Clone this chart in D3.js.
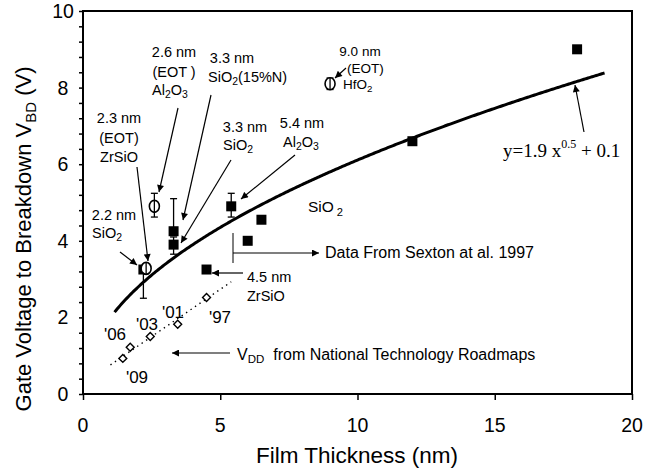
<!DOCTYPE html>
<html>
<head>
<meta charset="utf-8">
<script src="https://cdn.jsdelivr.net/npm/d3@7"></script>
<style>
  body { margin: 0; background: #fff; }
  text { font-family: "Liberation Sans", Arial, sans-serif; fill: #000; }
</style>
</head>
<body>
<svg id="chart" width="651" height="472"></svg>
<script>
// Measured breakdown voltages (filled squares)
const squareX = [2.2, 3.3, 3.3, 4.5, 5.4, 6.0, 6.5, 12.0, 18.0];
const squareY = [3.25, 3.9, 4.25, 3.25, 4.9, 4.0, 4.55, 6.6, 9.0];
// High-k films quoted at equivalent oxide thickness (open circles)
const circleX = [2.3, 2.6, 9.0];
const circleY = [3.28, 4.9, 8.1];
// Error bars: thickness, low, high
const errX = [2.2, 3.3, 3.3, 5.4, 2.6, 9.0];
const errLow = [2.5, 3.65, 4.25, 4.62, 4.62, 7.95];
const errHigh = [3.25, 4.1, 5.1, 5.24, 5.24, 8.25];
// Supply voltage from the technology roadmaps (open diamonds)
const vddYear = ["'97", "'01", "'03", "'06", "'09"];
const vddX = [4.5, 3.45, 2.45, 1.72, 1.45];
const vddY = [2.52, 1.82, 1.5, 1.22, 0.93];
const vddTrendX = [1.0, 5.4];
const vddTrendY = [0.76, 2.93];
// Fit: y = 1.9 x^0.5 + 0.1
const fitA = 1.9, fitP = 0.5, fitC = 0.1;
const fitRange = [1.15, 19];
// Axes
const xTicks = [0, 5, 10, 15, 20];
const yTicks = [0, 2, 4, 6, 8, 10];

const svg = d3.select("#chart");
const x = d3.scaleLinear().domain([0, 20]).range([83, 632]);
const y = d3.scaleLinear().domain([0, 10]).range([394, 11]);

// arrow head
svg.append("defs").append("marker")
  .attr("id", "ah").attr("viewBox", "0 0 10 10")
  .attr("refX", 10).attr("refY", 5)
  .attr("markerWidth", 9).attr("markerHeight", 7)
  .attr("markerUnits", "userSpaceOnUse")
  .attr("orient", "auto")
  .append("path").attr("d", "M0,0 L10,5 L0,10 z").attr("fill", "#000");

// axes
const yMinor = d3.range(0, 10.001, 0.4);
svg.append("g").attr("transform", "translate(83,0)")
  .call(d3.axisLeft(y).tickValues(yMinor).tickSize(4).tickFormat(""))
  .call(g => g.select(".domain").remove())
  .call(g => g.selectAll("line").attr("stroke", "#000").attr("stroke-width", 1.5));
svg.append("g").attr("transform", "translate(0,394)")
  .call(d3.axisBottom(x).tickValues(xTicks).tickSize(6).tickFormat(""))
  .call(g => g.select(".domain").remove())
  .call(g => g.selectAll("line").attr("stroke", "#000").attr("stroke-width", 1.5));

svg.selectAll(".ylab").data(yTicks).join("text")
  .attr("x", 63).attr("y", d => y(d) + 7)
  .attr("text-anchor", "middle").attr("font-size", 19.5).text(d => d);
svg.selectAll(".xlab").data(xTicks).join("text")
  .attr("x", d => x(d)).attr("y", 432)
  .attr("text-anchor", "middle").attr("font-size", 19.5).text(d => d);

// frame
svg.append("rect").attr("x", 83).attr("y", 11)
  .attr("width", 632 - 83).attr("height", 394 - 11)
  .attr("fill", "none").attr("stroke", "#000").attr("stroke-width", 2);

// axis titles
svg.append("text").attr("x", 357).attr("y", 463).attr("text-anchor", "middle")
  .attr("font-size", 22.5).text("Film Thickness (nm)");
const yt = svg.append("text").attr("transform", "translate(31,239) rotate(-90)")
  .attr("text-anchor", "middle").attr("font-size", 22);
yt.append("tspan").text("Gate Voltage to Breakdown V");
yt.append("tspan").attr("font-size", 15).attr("dy", 5).text("BD");
yt.append("tspan").attr("dy", -5).text(" (V)");

// fit curve
const fitXs = d3.range(fitRange[0], fitRange[1] + 0.001, 0.05);
svg.append("path")
  .datum(fitXs)
  .attr("d", d3.line().x(d => x(d)).y(d => y(fitA * Math.pow(d, fitP) + fitC)))
  .attr("fill", "none").attr("stroke", "#000").attr("stroke-width", 3);

// roadmap trend (dotted)
svg.append("path")
  .datum(d3.zip(vddTrendX, vddTrendY))
  .attr("d", d3.line().x(d => x(d[0])).y(d => y(d[1])))
  .attr("fill", "none").attr("stroke", "#000").attr("stroke-width", 1.4)
  .attr("stroke-dasharray", "1.4,4");

// error bars
const errs = d3.zip(errX, errLow, errHigh);
const eb = svg.append("g").attr("stroke", "#000").attr("stroke-width", 1.3);
errs.forEach(([ex, lo, hi]) => {
  eb.append("line").attr("x1", x(ex)).attr("x2", x(ex)).attr("y1", y(lo)).attr("y2", y(hi));
  [lo, hi].forEach(v => eb.append("line")
    .attr("x1", x(ex) - 3.5).attr("x2", x(ex) + 3.5).attr("y1", y(v)).attr("y2", y(v)));
});

// squares
svg.selectAll(".sq").data(d3.zip(squareX, squareY)).join("rect")
  .attr("x", d => x(d[0]) - 5).attr("y", d => y(d[1]) - 5)
  .attr("width", 10).attr("height", 10).attr("fill", "#000");

// circles
svg.selectAll(".ci").data(d3.zip(circleX, circleY)).join("ellipse")
  .attr("cx", d => x(d[0])).attr("cy", d => y(d[1]))
  .attr("rx", 5).attr("ry", 6)
  .attr("fill", "#fff").attr("stroke", "#000").attr("stroke-width", 1.6);
svg.selectAll(".cl").data(d3.zip(circleX, circleY)).join("line")
  .attr("x1", d => x(d[0])).attr("x2", d => x(d[0]))
  .attr("y1", d => y(d[1]) - 6).attr("y2", d => y(d[1]) + 6)
  .attr("stroke", "#000").attr("stroke-width", 1.3);

// diamonds
svg.selectAll(".dm").data(d3.zip(vddX, vddY)).join("path")
  .attr("d", d3.symbol(d3.symbolDiamond2, 40))
  .attr("transform", d => `translate(${x(d[0])},${y(d[1])})`)
  .attr("fill", "#fff").attr("stroke", "#000").attr("stroke-width", 1.4);

// year labels
const yearPos = [[220, 323], [173, 318], [147, 330], [115, 340], [137, 383]];
svg.selectAll(".yr").data(vddYear).join("text")
  .attr("x", (d, i) => yearPos[i][0]).attr("y", (d, i) => yearPos[i][1])
  .attr("text-anchor", "middle").attr("font-size", 17).text(d => d);

// annotation helper: plain strings, or {s, sub} pieces (sub: lowered & smaller)
function label(x0, y0, parts, size, anchor) {
  const t = svg.append("text").attr("x", x0).attr("y", y0)
    .attr("font-size", size).attr("text-anchor", anchor || "start")
    .attr("xml:space", "preserve");
  let shift = 0;
  parts.forEach(p => {
    const piece = typeof p === "string" ? { s: p, sub: false } : p;
    const target = piece.sub ? (piece.drop || 3) : 0;
    const ts = t.append("tspan").text(piece.s);
    if (target !== shift) { ts.attr("dy", target - shift); shift = target; }
    if (piece.sub) ts.attr("font-size", size * 0.72);
    if (piece.dx) ts.attr("dx", piece.dx);
  });
  return t;
}
const sub = (s, drop, dx) => ({ s, sub: true, drop, dx });
function arrow(x1, y1, x2, y2) {
  svg.append("line").attr("x1", x1).attr("y1", y1).attr("x2", x2).attr("y2", y2)
    .attr("stroke", "#000").attr("stroke-width", 1.2).attr("marker-end", "url(#ah)");
}
const fs = 14.5;

// 2.6 nm Al2O3
label(174, 57, ["2.6 nm"], fs, "middle");
label(174, 77, ["(EOT )"], fs, "middle");
label(152, 95, ["Al", sub("2"), "O", sub("3")], fs);
arrow(178, 108, 159, 192);
// 3.3 nm SiO2(15%N)
label(232, 63, ["3.3 nm"], fs, "middle");
label(208, 82, ["SiO", sub("2"), "(15%N)"], fs);
arrow(211, 95, 183, 220);
// 2.3 nm ZrSiO
label(119, 123, ["2.3 nm"], fs, "middle");
label(119, 143, ["(EOT)"], fs, "middle");
label(119, 162, ["ZrSiO"], fs, "middle");
arrow(137, 167, 148, 261);
// 3.3 nm SiO2
label(245, 132, ["3.3 nm"], fs, "middle");
label(223, 150, ["SiO", sub("2")], fs);
arrow(231, 160, 181, 243);
// 5.4 nm Al2O3
label(302, 128, ["5.4 nm"], fs, "middle");
label(283, 147, ["Al", sub("2"), "O", sub("3")], fs);
arrow(295, 155, 241, 199);
// 2.2 nm SiO2
label(114, 220, ["2.2 nm"], fs, "middle");
label(92, 238, ["SiO", sub("2")], fs);
arrow(120, 252, 137, 265);
// 9.0 nm HfO2
label(360, 56, ["9.0 nm"], 13.5, "middle");
label(347, 73, ["(EOT)"], 13.5);
label(343, 89, ["HfO", sub("2")], 13.5);
arrow(346, 68, 335, 78);
// SiO2 (region label)
label(308, 212, ["SiO", sub("2", 4, 3)], 15.5);
// fit equation
const eq = svg.append("text").attr("x", 503).attr("y", 157)
  .attr("font-size", 19).style("font-family", "'Liberation Serif', 'Times New Roman', serif");
eq.append("tspan").text("y=1.9 x");
eq.append("tspan").attr("font-size", 12).attr("dy", -9).text("0.5");
eq.append("tspan").attr("dy", 9).text(" + 0.1");
arrow(584, 132, 575, 85);
// Sexton data
svg.append("line").attr("x1", 233).attr("x2", 233).attr("y1", 233).attr("y2", 263)
  .attr("stroke", "#000").attr("stroke-width", 1);
arrow(233, 253, 319, 253);
label(325, 258, ["Data From Sexton at al. 1997"], 16);
// 4.5 nm ZrSiO
arrow(243, 273, 212, 273);
label(247, 282, ["4.5 nm"], fs);
label(247, 301, ["ZrSiO"], fs);
// VDD roadmaps
arrow(230, 353, 172, 353);
label(237, 360, ["V", sub("DD"), "  from National Technology Roadmaps"], 16);
</script>
</body>
</html>
